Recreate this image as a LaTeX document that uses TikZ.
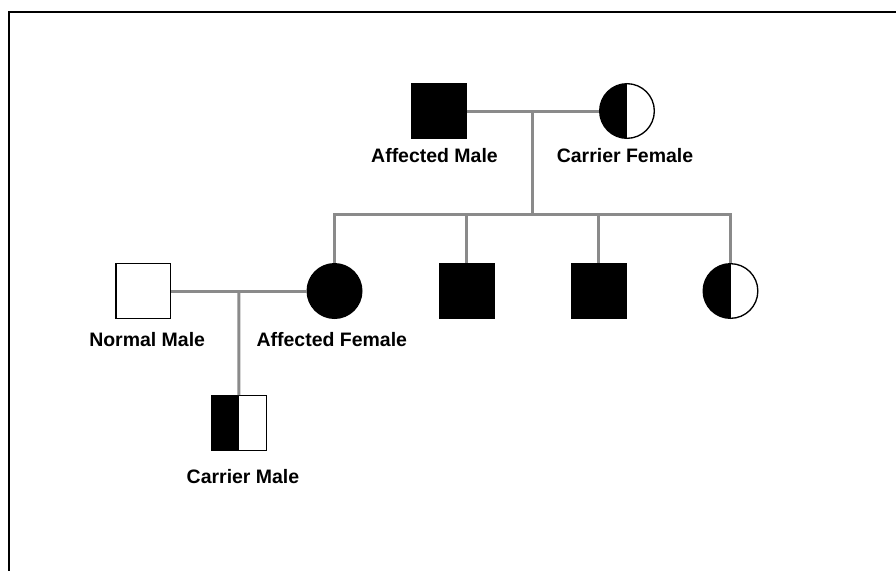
\documentclass[tikz,border=0pt]{standalone}
\usepackage{fontspec}
\setmainfont{Liberation Sans}
\usepackage{tikz}
\newcommand{\symsize}{41pt}
\definecolor{lineGray}{RGB}{138,138,138}
\usetikzlibrary{calc,positioning}
\tikzset{
  x=0.75pt,
  y=-0.75pt,
  font=\bfseries\fontsize{14.6}{17}\selectfont,
  male/.style={draw,shape=rectangle,minimum size=\symsize,inner sep=0,line width=1pt},
  female/.style={draw,shape=circle,minimum size=\symsize,inner sep=0,line width=1pt},
  affected/.style={fill=black},
  carrier/.style={path picture={\fill[black] (path picture bounding box.south west) rectangle (path picture bounding box.north);}},
  line/.style={draw,lineGray,line width=2.25pt},
  lbl/.style={inner sep=0},
}

\begin{document}
\begin{tikzpicture}
      \useasboundingbox (0,0) rectangle (896,571);
      \draw [line width=1.5pt] (9,571) -- (9,12.3) -- (896,12.3);
      % first generation
      \node (am) [male,affected] at (438.5,111) {};
      \node (cf) [female,carrier] at (627,111) {};
      \node (amL) [lbl,below=6.5pt of am,xshift=-3pt] {Affected Male};
      \node (cfL) [lbl,below=6.5pt of cf,xshift=-1.5pt] {Carrier Female};
      % second generation
      \node (af) [female,affected] at (334.5,291) {};
      \node (s2) [male,affected,right=57pt of af] {};
      \node (s3) [male,affected,right=57pt of s2] {};
      \node (s4) [female,carrier,right=57pt of s3] {};
      \node (nm) [male,left=101.5pt of af] {};
      \node (nmL) [lbl,below=9.5pt of nm,xshift=3pt] {Normal Male};
      \node (afL) [lbl,below=9.5pt of af,xshift=-2pt] {Affected Female};
      % third generation
      \node (cm) [male,carrier] at (239,423) {};
      \node (cmL) [lbl,below=13.5pt of cm,xshift=3pt] {Carrier Male};
      % lines
      \coordinate (sibY) at (0,214);
      \coordinate (m1) at ($(am)!0.5!(cf)$);
      \coordinate (m2) at ($(nm)!0.5!(af)$);
      \path [line] (am) -- (cf);
      \path [line] (m1) -- (m1 |- sibY);
      \path [line] (af) |- (s4 |- sibY) -- (s4);
      \path [line] (s2 |- sibY) -- (s2);
      \path [line] (s3 |- sibY) -- (s3);
      \path [line] (nm) -- (af);
      \path [line] (m2) -- (cm);
    \end{tikzpicture}
\end{document}
